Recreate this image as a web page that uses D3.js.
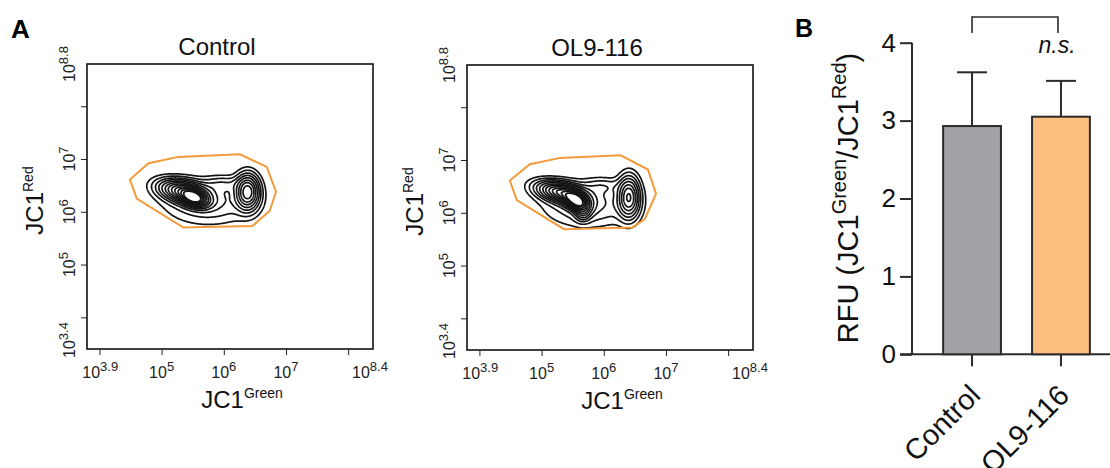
<!DOCTYPE html>
<html>
<head>
<meta charset="utf-8">
<script src="https://cdn.jsdelivr.net/npm/d3@7"></script>
<style>
  body { margin: 0; background: #fff; }
  svg { display: block; font-family: Arial, "Liberation Sans", Helvetica, sans-serif; }
</style>
</head>
<body>
<svg id="fig"></svg>
<script>
// ---- panel A (flow plots), all values are log10 exponents ----
var xTickExp = [3.9, 5, 6, 7, 8.4];
var yTickExp = [3.4, 5, 6, 7, 8.8];
var xMajorExp = [4, 5, 6, 7, 8];
var yMajorExp = [4, 5, 6, 7, 8];

var ctrlGate = [[4.49, 6.61], [4.60, 6.25], [5.35, 5.70], [6.46, 5.73], [6.74, 6.02],
                [6.84, 6.38], [6.69, 6.85], [6.26, 7.09], [5.27, 7.04], [4.79, 6.92]];
var olGate = [[4.49, 6.61], [4.60, 6.24], [5.36, 5.69], [6.46, 5.72], [6.66, 5.88],
              [6.84, 6.36], [6.71, 6.82], [6.27, 7.09], [5.30, 7.04], [4.81, 6.92]];

// populations: [log green, log red, sd green, sd red, corr, weight]
var ctrlPops = [
  [5.75, 6.17, 0.48, 0.28, 0.0, 0.12],
  [5.35, 6.38, 0.25, 0.14, -0.35, 0.55],
  [5.53, 6.24, 0.13, 0.10, -0.3, 0.55],
  [6.38, 6.37, 0.12, 0.21, 0.0, 0.48],
  [5.98, 6.52, 0.20, 0.10, 0.0, 0.08]
];
var olPops = [
  [5.75, 6.15, 0.48, 0.28, 0.0, 0.11],
  [5.32, 6.38, 0.25, 0.13, -0.4, 0.50],
  [5.57, 6.20, 0.12, 0.11, -0.35, 0.55],
  [5.66, 5.98, 0.08, 0.10, 0.0, 0.15],
  [6.40, 6.29, 0.11, 0.25, 0.0, 0.36],
  [5.98, 6.50, 0.20, 0.10, 0.0, 0.06]
];
var contourLevels = [0.04, 0.075, 0.12, 0.17, 0.23, 0.3, 0.37, 0.45, 0.53, 0.61, 0.69, 0.77];

// ---- panel B (bars) ----
var groups = ["Control", "OL9-116"];
var means = [2.93, 3.05];
var sds = [0.69, 0.46];
var barColors = ["#a2a1a6", "#fdbf7f"];
var barTicks = [0, 1, 2, 3, 4];

var svg = d3.select("#fig").attr("width", 1110).attr("height", 468);
svg.append("rect").attr("width", 1110).attr("height", 468).attr("fill", "#fff");

var pw = 286, ph = 285;
var fx = d3.scaleLog().domain([10 ** 3.8, 10 ** 8.4]).range([0, pw]);
var fy = d3.scaleLog().domain([10 ** 3.4, 10 ** 8.8]).range([ph, 0]);

function minorTicks(scale) {
  var dom = scale.domain(), out = [];
  for (var d = 3; d <= 8; d++)
    for (var k = 2; k <= 9; k++) {
      var v = k * 10 ** d;
      if (v > dom[0] && v < dom[1]) out.push(v);
    }
  return out;
}

// density grid in log space
var gx0 = 4.0, gy0 = 5.2, step = 0.01, gn = 341, gm = 221;
function densityGrid(pops) {
  var vals = new Float64Array(gn * gm), mx = 0;
  for (var j = 0; j < gm; j++) {
    for (var i = 0; i < gn; i++) {
      var lx = gx0 + i * step, ly = gy0 + j * step, s = 0;
      pops.forEach(function(p) {
        var dx = (lx - p[0]) / p[2], dy = (ly - p[1]) / p[3], r = p[4];
        s += p[5] * Math.exp(-(dx * dx - 2 * r * dx * dy + dy * dy) / (2 * (1 - r * r)));
      });
      vals[i + j * gn] = s;
      if (s > mx) mx = s;
    }
  }
  for (var k = 0; k < vals.length; k++) vals[k] /= mx;
  return vals;
}

var proj = d3.geoTransform({
  point: function(px, py) {
    this.stream.point(fx(10 ** (gx0 + px * step)), fy(10 ** (gy0 + py * step)));
  }
});
var cpath = d3.geoPath(proj);

function supText(sel, base, sup, size, supSize, rise) {
  sel.append("tspan").attr("font-size", size).text(base);
  sel.append("tspan").attr("font-size", supSize).attr("dy", -rise).text(sup);
}

function flowPanel(left, top, title, gate, pops) {
  var g = svg.append("g").attr("transform", "translate(" + left + "," + top + ")");

  // contours
  var contours = d3.contours().size([gn, gm]).thresholds(contourLevels)(densityGrid(pops));
  g.append("g").selectAll("path").data(contours).join("path")
    .attr("d", cpath)
    .attr("fill", "none")
    .attr("stroke", "#141414")
    .attr("stroke-width", 1.7);

  // gate
  g.append("path")
    .attr("d", d3.line().x(function(d) { return fx(10 ** d[0]); })
      .y(function(d) { return fy(10 ** d[1]); }).curve(d3.curveLinearClosed)(gate))
    .attr("fill", "none")
    .attr("stroke", "#f59a3a")
    .attr("stroke-width", 2);

  // frame
  g.append("rect").attr("width", pw).attr("height", ph)
    .attr("fill", "none").attr("stroke", "#111").attr("stroke-width", 1.6);

  // ticks
  var bx = g.append("g").attr("transform", "translate(0," + ph + ")");
  bx.call(d3.axisBottom(fx).tickValues(minorTicks(fx)).tickSize(3).tickFormat(""));
  bx.call(d3.axisBottom(fx).tickValues(xMajorExp.map(function(e) { return 10 ** e; })).tickSize(6).tickFormat(""));
  var ly = g.append("g");
  ly.call(d3.axisLeft(fy).tickValues(minorTicks(fy)).tickSize(3).tickFormat(""));
  ly.call(d3.axisLeft(fy).tickValues(yMajorExp.map(function(e) { return 10 ** e; })).tickSize(6).tickFormat(""));
  g.selectAll(".domain").remove();
  g.selectAll(".tick line").attr("stroke", "#222");

  // edge labels sit a little inside the frame corners
  xTickExp.forEach(function(e, i) {
    var nudge = i === 0 ? 7 : (i === xTickExp.length - 1 ? -3 : 0);
    var t = g.append("text").attr("x", fx(10 ** e) + nudge).attr("y", ph + 29)
      .attr("text-anchor", "middle").attr("fill", "#222");
    supText(t, "10", e, 16, 13, 7);
  });
  yTickExp.forEach(function(e, i) {
    var nudge = i === 0 ? -9 : 0;
    var t = g.append("text")
      .attr("transform", "translate(-12," + (fy(10 ** e) + nudge) + ") rotate(-90)")
      .attr("text-anchor", "middle").attr("fill", "#222");
    supText(t, "10", e, 16, 13, 7);
  });

  g.append("text").attr("x", pw / 2 - 13).attr("y", -9)
    .attr("text-anchor", "middle").attr("font-size", 24).attr("fill", "#111").text(title);

  var xl = g.append("text").attr("x", pw / 2 + 12).attr("y", ph + 59)
    .attr("text-anchor", "middle").attr("fill", "#111");
  supText(xl, "JC1", "Green", 24, 14, 10);

  var yl = g.append("text")
    .attr("transform", "translate(-44," + (ph / 2 - 6) + ") rotate(-90)")
    .attr("text-anchor", "middle").attr("fill", "#111");
  supText(yl, "JC1", "Red", 24, 14, 10);
}

flowPanel(87, 64, "Control", ctrlGate, ctrlPops);
flowPanel(467, 65, "OL9-116", olGate, olPops);

svg.append("text").attr("x", 11).attr("y", 38).attr("font-size", 26)
  .attr("font-weight", "bold").text("A");
svg.append("text").attr("x", 795).attr("y", 37).attr("font-size", 25)
  .attr("font-weight", "bold").text("B");

// ---- panel B ----
var by = d3.scaleLinear().domain([0, 4]).range([354.3, 42.7]);
var bx = d3.scaleBand().domain(groups).range([912, 1121]).paddingInner(0.35).paddingOuter(0.35);
var ink = "#2b2b2b";
var B = svg.append("g");

B.append("line").attr("x1", 900).attr("x2", 1110).attr("y1", by(0)).attr("y2", by(0))
  .attr("stroke", ink).attr("stroke-width", 2);
B.append("line").attr("x1", 912).attr("x2", 912).attr("y1", by(0)).attr("y2", by(4))
  .attr("stroke", ink).attr("stroke-width", 2);

var yAx = B.append("g").attr("transform", "translate(912,0)")
  .call(d3.axisLeft(by).tickValues(barTicks).tickSize(12).tickPadding(4).tickFormat(d3.format("d")));
yAx.select(".domain").remove();
yAx.selectAll(".tick line").attr("stroke", ink).attr("stroke-width", 2);
yAx.selectAll(".tick text").attr("font-size", 26).attr("fill", "#111")
  .attr("font-family", "Arial, 'Liberation Sans', sans-serif");

groups.forEach(function(gname, i) {
  var cx = bx(gname) + bx.bandwidth() / 2;
  // error bar behind the bar
  B.append("line").attr("x1", cx).attr("x2", cx).attr("y1", by(means[i])).attr("y2", by(means[i] + sds[i]))
    .attr("stroke", ink).attr("stroke-width", 2);
  B.append("line").attr("x1", cx - 15).attr("x2", cx + 15)
    .attr("y1", by(means[i] + sds[i])).attr("y2", by(means[i] + sds[i]))
    .attr("stroke", ink).attr("stroke-width", 2);
  B.append("rect").attr("x", bx(gname)).attr("y", by(means[i]))
    .attr("width", bx.bandwidth()).attr("height", by(0) - by(means[i]))
    .attr("fill", barColors[i]).attr("stroke", ink).attr("stroke-width", 2);
  B.append("line").attr("x1", cx).attr("x2", cx).attr("y1", by(0)).attr("y2", by(0) + 12)
    .attr("stroke", ink).attr("stroke-width", 2);
  B.append("text")
    .attr("transform", "translate(" + (cx + 10) + "," + 397 + ") rotate(-45)")
    .attr("text-anchor", "end").attr("font-size", 29).attr("fill", "#111").text(gname);
});

// significance bracket
var c0 = bx(groups[0]) + bx.bandwidth() / 2, c1 = bx(groups[1]) + bx.bandwidth() / 2;
B.append("path")
  .attr("d", "M" + c0 + "," + 33 + "V17H" + (c1 - 3) + "V33")
  .attr("fill", "none").attr("stroke", ink).attr("stroke-width", 1.6);
B.append("text").attr("x", 1057).attr("y", 53).attr("text-anchor", "middle")
  .attr("font-size", 23).attr("font-style", "italic").attr("fill", "#111").text("n.s.");

var yt = B.append("text").attr("transform", "translate(858,198) rotate(-90)")
  .attr("text-anchor", "middle").attr("fill", "#111");
yt.append("tspan").attr("font-size", 29).text("RFU (JC1");
yt.append("tspan").attr("font-size", 20).attr("dy", -12).text("Green");
yt.append("tspan").attr("font-size", 29).attr("dy", 12).text("/JC1");
yt.append("tspan").attr("font-size", 20).attr("dy", -12).text("Red");
yt.append("tspan").attr("font-size", 29).attr("dy", 12).text(")");
</script>
</body>
</html>
